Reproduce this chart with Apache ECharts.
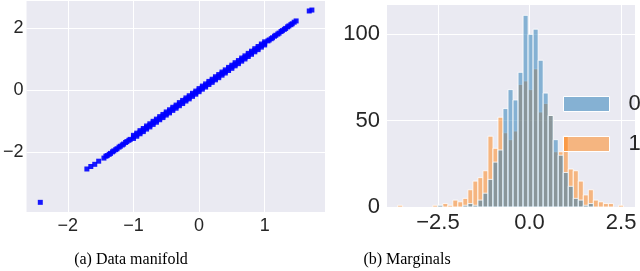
<!DOCTYPE html>
<html>
<head>
<meta charset="utf-8">
<script src="https://cdn.jsdelivr.net/npm/echarts@6/dist/echarts.min.js"></script>
<style>
html,body{margin:0;padding:0;background:#fff;}
#chart{width:640px;height:271px;}
</style>
</head>
<body>
<div id="chart"></div>
<script>
// ---- Panel (a): data manifold points [x, y] ----
const manifoldPoints = [
  [-2.42,-3.60],[-1.71,-2.53],[-1.65,-2.45],[-1.59,-2.38],[-1.53,-2.28],[1.68,2.54],[1.72,2.57],
  [-1.45,-2.18],[-1.40,-2.10],[-1.35,-2.03],[-1.30,-1.95],[-1.25,-1.88],[-1.20,-1.80],[-1.15,-1.73],[-1.10,-1.65],
  [-1.05,-1.58],[-1.00,-1.50],[-0.95,-1.43],[-0.90,-1.35],[-0.85,-1.28],[-0.80,-1.20],[-0.75,-1.13],[-0.70,-1.05],
  [-0.65,-0.98],[-0.60,-0.90],[-0.55,-0.83],[-0.50,-0.75],[-0.45,-0.68],[-0.40,-0.60],[-0.35,-0.53],[-0.30,-0.45],
  [-0.25,-0.38],[-0.20,-0.30],[-0.15,-0.23],[-0.10,-0.15],[-0.05,-0.08],[0.00,0.00],[0.05,0.08],[0.10,0.15],
  [0.15,0.23],[0.20,0.30],[0.25,0.38],[0.30,0.45],[0.35,0.53],[0.40,0.60],[0.45,0.68],[0.50,0.75],
  [0.55,0.83],[0.60,0.90],[0.65,0.98],[0.70,1.05],[0.75,1.13],[0.80,1.20],[0.85,1.28],[0.90,1.35],
  [0.95,1.43],[1.00,1.50],[1.05,1.58],[1.10,1.65],[1.15,1.73],[1.20,1.80],[1.25,1.88],[1.30,1.95],
  [1.35,2.03],[1.40,2.10],[1.45,2.18],[1.48,2.22],
  [-1.00,-1.45],[-0.95,-1.38],[-0.90,-1.30],[-0.85,-1.23],[-0.80,-1.15],[-0.75,-1.08],[-0.70,-1.00],[-0.65,-0.93],
  [-0.60,-0.85],[-0.55,-0.78],[-0.50,-0.70],[-0.45,-0.63],[-0.40,-0.55],[-0.35,-0.48],[-0.30,-0.40],[-0.25,-0.33],
  [-0.20,-0.25],[-0.15,-0.18],[-0.10,-0.10],[-0.05,-0.03],[0.00,0.05],[0.05,0.13],[0.10,0.20],[0.15,0.28],
  [0.20,0.35],[0.25,0.43],[0.30,0.50],[0.35,0.58],[0.40,0.65],[0.45,0.73],[0.50,0.80],[0.55,0.88],
  [0.60,0.95],[0.65,1.03],[0.70,1.10],[0.75,1.18],[0.80,1.25],[0.85,1.33],[0.90,1.40],[0.95,1.48],[1.00,1.55],
  [-1.00,-1.55],[-0.95,-1.48],[-0.90,-1.40],[-0.85,-1.33],[-0.80,-1.25],[-0.75,-1.18],[-0.70,-1.10],[-0.65,-1.03],
  [-0.60,-0.95],[-0.55,-0.88],[-0.50,-0.80],[-0.45,-0.73],[-0.40,-0.65],[-0.35,-0.58],[-0.30,-0.50],[-0.25,-0.43],
  [-0.20,-0.35],[-0.15,-0.28],[-0.10,-0.20],[-0.05,-0.13],[0.00,-0.05],[0.05,0.03],[0.10,0.10],[0.15,0.18],
  [0.20,0.25],[0.25,0.33],[0.30,0.40],[0.35,0.48],[0.40,0.55],[0.45,0.63],[0.50,0.70],[0.55,0.78],
  [0.60,0.85],[0.65,0.93],[0.70,1.00],[0.75,1.08],[0.80,1.15],[0.85,1.23],[0.90,1.30],[0.95,1.38],[1.00,1.45],
  [-1.42,-2.12],[-1.37,-2.06],[-1.32,-1.98],[-1.27,-1.91],[-1.22,-1.83],[-1.17,-1.76],[-1.12,-1.68],[-1.07,-1.61],
  [1.07,1.61],[1.12,1.68],[1.17,1.76],[1.22,1.83],[1.27,1.91],[1.32,1.98],[1.37,2.06],[1.42,2.13]
];
const scatterXTicks = [-2, -1, 0, 1];
const scatterYTicks = [-2, 0, 2];

// ---- Panel (b): marginal histograms ----
const binStart = -3.6;
const binWidth = 0.137;
const countsDim0 = [0,0,0,0,0,0,0,0,1,0,0,0,0,1,2,1,4,8,16,26,33,57,68,62,78,111,100,103,85,66,53,39,30,20,12,5,4,1,2,0,0,0,0,0,0];
const countsDim1 = [1,0,0,0,0,0,0,1,1,2,1,4,3,5,10,15,17,21,41,34,52,43,39,44,71,73,68,80,55,60,53,32,32,41,22,21,15,7,10,4,3,2,2,0,1];
const histXTicks = [-2.5, 0, 2.5];
const histYTicks = [0, 50, 100];
const seriesNames = ['0', '1'];
const captions = ['(a) Data manifold', '(b) Marginals'];

function binsOf(counts) {
  const out = [];
  counts.forEach((c, k) => {
    if (c > 0) out.push([binStart + k * binWidth, binStart + (k + 1) * binWidth, c]);
  });
  return out;
}
const fmt = v => (v < 0 ? '\u2212' : '') + Math.abs(v);
const fmt1 = v => (v < 0 ? '\u2212' : '') + Math.abs(v).toFixed(1);

const BLUE = 'rgba(31,119,180,0.5)';
const ORANGE = 'rgba(255,127,14,0.5)';
const TXT = '#262626';
const FONT = 'Liberation Sans, Arial, sans-serif';

function histRender(color) {
  return function (params, api) {
    const p0 = api.coord([api.value(0), api.value(2)]);
    const p1 = api.coord([api.value(1), 0]);
    return {
      type: 'rect',
      shape: { x: p0[0], y: p0[1], width: p1[0] - p0[0], height: p1[1] - p0[1] },
      style: { fill: color, stroke: 'rgba(255,255,255,0.9)', lineWidth: 0.9 }
    };
  };
}

const chart = echarts.init(document.getElementById('chart'), null, { renderer: 'canvas' });
const splitLine = { show: true, lineStyle: { color: '#ffffff', width: 1 } };
chart.setOption({
  animation: false,
  backgroundColor: '#ffffff',
  grid: [
    { left: 26, top: 1, width: 299, height: 211, show: true, backgroundColor: '#eaeaf2', borderWidth: 0 },
    { left: 387, top: 5, width: 248, height: 202, show: true, backgroundColor: '#eaeaf2', borderWidth: 0 }
  ],
  xAxis: [
    { gridIndex: 0, type: 'value', min: -2.63, max: 1.92,
      axisLine: { show: false }, axisTick: { show: false, customValues: scatterXTicks },
      splitLine: splitLine,
      axisLabel: { customValues: scatterXTicks, formatter: fmt, color: TXT, fontFamily: FONT, fontSize: 18, margin: 5 } },
    { gridIndex: 1, type: 'value', min: -3.89, max: 2.88,
      axisLine: { show: false }, axisTick: { show: false, customValues: histXTicks },
      splitLine: splitLine,
      axisLabel: { customValues: histXTicks, formatter: fmt1, color: TXT, fontFamily: FONT, fontSize: 22, margin: 5 } }
  ],
  yAxis: [
    { gridIndex: 0, type: 'value', min: -3.91, max: 2.86,
      axisLine: { show: false }, axisTick: { show: false, customValues: scatterYTicks },
      splitLine: splitLine,
      axisLabel: { customValues: scatterYTicks, formatter: fmt, color: TXT, fontFamily: FONT, fontSize: 18, margin: 3 } },
    { gridIndex: 1, type: 'value', min: 0, max: 117,
      axisLine: { show: false }, axisTick: { show: false, customValues: histYTicks },
      splitLine: splitLine,
      axisLabel: { customValues: histYTicks, formatter: fmt, color: TXT, fontFamily: FONT, fontSize: 22, margin: 7 } }
  ],
  legend: {
    orient: 'vertical', left: 563, top: 93, padding: 0, itemGap: 18,
    itemWidth: 46, itemHeight: 15, icon: 'rect',
    textStyle: { color: TXT, fontFamily: FONT, fontSize: 22, padding: [0, 0, 0, 14] },
    data: [
      { name: seriesNames[0], itemStyle: { color: BLUE, borderColor: '#ffffff', borderWidth: 1 } },
      { name: seriesNames[1], itemStyle: { color: ORANGE, borderColor: '#ffffff', borderWidth: 1 } }
    ]
  },
  series: [
    { type: 'scatter', xAxisIndex: 0, yAxisIndex: 0, data: manifoldPoints,
      symbol: 'rect', symbolSize: 5, itemStyle: { color: '#0000ff', opacity: 0.9 } },
    { type: 'custom', name: seriesNames[1], xAxisIndex: 1, yAxisIndex: 1, data: binsOf(countsDim1),
      encode: { x: [0, 1], y: 2 }, renderItem: histRender(ORANGE), itemStyle: { color: ORANGE } },
    { type: 'custom', name: seriesNames[0], xAxisIndex: 1, yAxisIndex: 1, data: binsOf(countsDim0),
      encode: { x: [0, 1], y: 2 }, renderItem: histRender(BLUE), itemStyle: { color: BLUE } }
  ],
  graphic: [
    { type: 'text', x: 131, y: 260, style: { text: captions[0], x: 0, y: 0, align: 'center', verticalAlign: 'middle',
      font: '16px "Liberation Serif", "Times New Roman", serif', fill: '#000' } },
    { type: 'text', x: 407, y: 260, style: { text: captions[1], x: 0, y: 0, align: 'center', verticalAlign: 'middle',
      font: '16px "Liberation Serif", "Times New Roman", serif', fill: '#000' } }
  ]
});
</script>
</body>
</html>
